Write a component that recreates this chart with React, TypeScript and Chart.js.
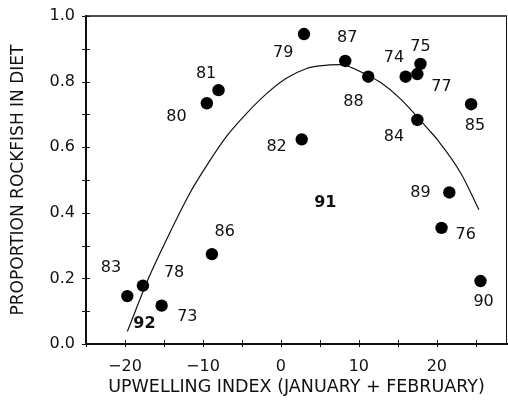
import React, { useEffect, useRef } from "react";
import { Chart, registerables } from "chart.js";

Chart.register(...registerables);

// Observations: year label, upwelling index (Jan+Feb), proportion rockfish in diet
const years = ["83", "78", "73", "86", "80", "81", "79", "82", "87", "88", "74", "77", "75", "84", "85", "89", "76", "90"];
const upwelling = [-19.7, -17.7, -15.3, -8.85, -9.5, -8.0, 2.96, 2.67, 8.25, 11.2, 16.0, 17.5, 17.9, 17.5, 24.4, 21.6, 20.6, 25.6];
const proportion = [0.146, 0.178, 0.117, 0.274, 0.734, 0.774, 0.945, 0.624, 0.863, 0.815, 0.815, 0.823, 0.854, 0.683, 0.731, 0.462, 0.354, 0.192];

// Where each year label sits (data coordinates)
const labelX = [-21.8, -13.7, -12.0, -7.2, -13.4, -9.6, 0.3, -0.55, 8.5, 9.3, 14.5, 20.6, 17.9, 14.5, 24.9, 17.9, 23.7, 26.0];
const labelY = [0.231, 0.216, 0.083, 0.341, 0.693, 0.823, 0.888, 0.602, 0.932, 0.739, 0.873, 0.783, 0.906, 0.632, 0.665, 0.462, 0.334, 0.129];

// Years shown in bold without a plotted point
const boldYears = ["91", "92"];
const boldX = [5.7, -17.5];
const boldY = [0.429, 0.061];

// Fitted curve, sampled from the figure
const curveX = [-19.7, -16.9, -14.7, -11.7, -9.6, -7.0, -4.4, -1.8, 0.7, 3.3, 5.0, 7.6, 11.2, 12.8, 15.3, 19.0, 20.1, 23.1, 25.4];
const curveY = [0.038, 0.205, 0.317, 0.459, 0.541, 0.632, 0.703, 0.764, 0.81, 0.84, 0.848, 0.852, 0.818, 0.797, 0.748, 0.652, 0.622, 0.52, 0.409];

const xTicks = [-25, -20, -15, -10, -5, 0, 5, 10, 15, 20, 25];
const yTicks = [0, 0.1, 0.2, 0.3, 0.4, 0.5, 0.6, 0.7, 0.8, 0.9, 1.0];

const FONT = "'DejaVu Sans', 'Liberation Sans', sans-serif";
const INK = "#111";

const zeroPad = (s: any) => {
  s.paddingTop = 0;
  s.paddingBottom = 0;
  s.paddingLeft = 0;
  s.paddingRight = 0;
};

const decorPlugin = {
  id: "decor",
  afterDatasetsDraw(chart: any) {
    const { ctx, chartArea, scales } = chart;
    const xs = scales.x;
    const ys = scales.y;
    ctx.save();
    // frame top & right
    ctx.strokeStyle = INK;
    ctx.lineWidth = 1.5;
    ctx.beginPath();
    ctx.moveTo(chartArea.left, chartArea.top);
    ctx.lineTo(chartArea.right, chartArea.top);
    ctx.stroke();
    ctx.lineWidth = 1;
    ctx.beginPath();
    ctx.moveTo(chartArea.right - 0.5, chartArea.top);
    ctx.lineTo(chartArea.right - 0.5, chartArea.bottom);
    ctx.stroke();
    // crossing tick marks
    ctx.lineWidth = 1;
    yTicks.forEach((v) => {
      const py = Math.round(ys.getPixelForValue(v)) + 0.5;
      ctx.beginPath();
      ctx.moveTo(chartArea.left - 4, py);
      ctx.lineTo(chartArea.left + 4, py);
      ctx.stroke();
    });
    xTicks.forEach((v) => {
      const px = Math.round(xs.getPixelForValue(v)) + 0.5;
      ctx.beginPath();
      ctx.moveTo(px, chartArea.bottom - 4);
      ctx.lineTo(px, chartArea.bottom + 3);
      ctx.stroke();
    });
    // year labels
    ctx.fillStyle = INK;
    ctx.textAlign = "center";
    ctx.textBaseline = "middle";
    ctx.font = `16px ${FONT}`;
    years.forEach((t, i) => {
      ctx.fillText(t, xs.getPixelForValue(labelX[i]), ys.getPixelForValue(labelY[i]));
    });
    ctx.font = `bold 16px ${FONT}`;
    boldYears.forEach((t, i) => {
      ctx.fillText(t, xs.getPixelForValue(boldX[i]), ys.getPixelForValue(boldY[i]));
    });
    ctx.restore();
  },
};

export default function App() {
  const ref = useRef<HTMLCanvasElement | null>(null);
  useEffect(() => {
    if (!ref.current) return;
    const chart = new Chart(ref.current, {
      type: "scatter",
      data: {
        datasets: [
          {
            type: "line",
            data: curveX.map((x, i) => ({ x, y: curveY[i] })),
            borderColor: INK,
            borderWidth: 1.2,
            pointRadius: 0,
            cubicInterpolationMode: "monotone",
            fill: false,
          } as any,
          {
            data: upwelling.map((x, i) => ({ x, y: proportion[i] })),
            backgroundColor: "#000",
            borderColor: "#000",
            pointRadius: 6.2,
            borderWidth: 0,
          },
        ],
      },
      plugins: [decorPlugin],
      options: {
        animation: false,
        responsive: false,
        maintainAspectRatio: false,
        layout: { autoPadding: false, padding: { left: 0, right: 1, top: 16, bottom: 0 } },
        plugins: { legend: { display: false }, tooltip: { enabled: false } },
        scales: {
          x: {
            type: "linear",
            min: -25,
            max: 29,
            grid: { display: false, drawTicks: false },
            border: { display: true, color: INK, width: 2 },
            afterFit: (s: any) => {
              s.height = 61;
              zeroPad(s);
            },
            ticks: {
              stepSize: 5,
              includeBounds: false,
              maxRotation: 0,
              autoSkip: false,
              padding: 13,
              color: INK,
              font: { family: FONT, size: 16 },
              callback: (v: any) => (Number(v) % 10 === 0 ? String(v).replace("-", "\u2212") : ""),
            },
            title: {
              display: true,
              text: "UPWELLING INDEX (JANUARY + FEBRUARY)",
              color: INK,
              font: { family: FONT, size: 17.5 },
              padding: { top: 0, bottom: 7 },
            },
          },
          y: {
            type: "linear",
            min: 0,
            max: 1,
            grid: { display: false, drawTicks: false },
            border: { display: true, color: INK, width: 2 },
            afterFit: (s: any) => {
              s.width = 86;
              zeroPad(s);
            },
            ticks: {
              stepSize: 0.2,
              padding: 11,
              color: INK,
              font: { family: FONT, size: 16 },
              callback: (v: any) => Number(v).toFixed(1),
            },
            title: {
              display: true,
              text: "PROPORTION ROCKFISH IN DIET",
              color: INK,
              font: { family: FONT, size: 17 },
              padding: { top: 8, bottom: 0 },
            },
          },
        },
      },
    });
    return () => chart.destroy();
  }, []);
  return (
    <div style={{ position: "absolute", left: 0, top: 0, width: 508, height: 405, background: "#fff" }}>
      <canvas ref={ref} width={508} height={405} style={{ width: 508, height: 405, display: "block" }} />
    </div>
  );
}
